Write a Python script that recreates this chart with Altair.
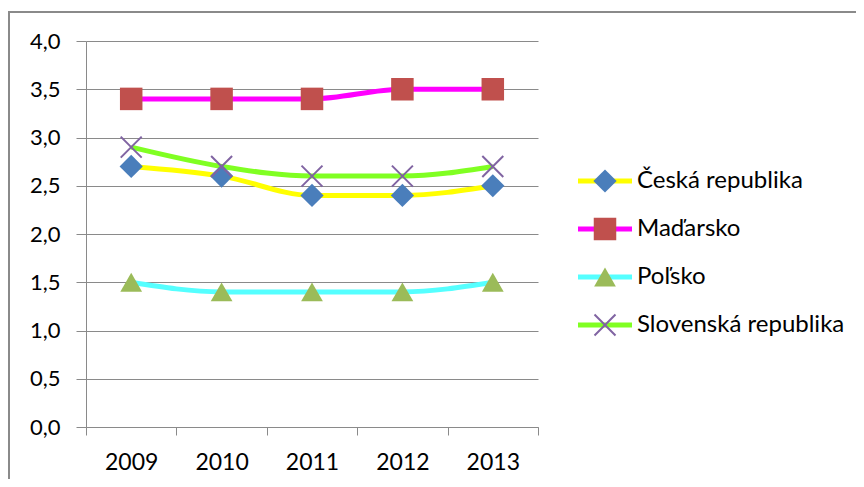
import altair as alt
import pandas as pd

years = ["2009", "2010", "2011", "2012", "2013"]
series = ["Česká republika", "Maďarsko", "Poľsko", "Slovenská republika"]
cz = [2.7, 2.6, 2.4, 2.4, 2.5]
hu = [3.4, 3.4, 3.4, 3.5, 3.5]
pl = [1.5, 1.4, 1.4, 1.4, 1.5]
sk = [2.9, 2.7, 2.6, 2.6, 2.7]
y_ticks = [0.0, 0.5, 1.0, 1.5, 2.0, 2.5, 3.0, 3.5, 4.0]

line_colors = ["#FFFF00", "#FF00FF", "#55FFFF", "#80FF22"]
marker_fill = ["#4A7EBB", "#C0504D", "#9BBB59", "#8064A2"]
marker_stroke = ["rgba(0,0,0,0)", "rgba(0,0,0,0)", "rgba(0,0,0,0)", "#8064A2"]
marker_shapes = ["diamond", "square", "triangle-up", "M-1,-1L1,1M-1,1L1,-1"]
marker_sizes = [540, 440, 560, 400]

rows = []
for name, vals in zip(series, [cz, hu, pl, sk]):
    for yr, v in zip(years, vals):
        rows.append({"series": name, "year": yr, "value": v})
df = pd.DataFrame(rows)
leg = pd.DataFrame({"series": series, "idx": list(range(len(series)))})

FONT = "Lato"
GRAY = "#8A8A8A"

color_scale = alt.Scale(domain=series, range=line_colors)
fill_scale = alt.Scale(domain=series, range=marker_fill)
stroke_scale = alt.Scale(domain=series, range=marker_stroke)
shape_scale = alt.Scale(domain=series, range=marker_shapes)
size_scale = alt.Scale(domain=series, range=marker_sizes)

x_enc = alt.X(
    "year:N",
    sort=years,
    scale=alt.Scale(paddingInner=0, paddingOuter=0),
    axis=alt.Axis(
        title=None, labelAngle=0, tickBand="extent", grid=False,
        domainColor=GRAY, tickColor=GRAY, tickSize=8,
        labelFont=FONT, labelFontSize=23, labelColor="#000000", labelPadding=16,
    ),
)
y_enc = alt.Y(
    "value:Q",
    scale=alt.Scale(domain=[0, 4], nice=False, zero=True),
    axis=alt.Axis(
        title=None, values=y_ticks,
        labelExpr="replace(format(datum.value, '.1f'), '.', ',')",
        grid=True, gridColor=GRAY, gridWidth=1,
        domainColor=GRAY, tickColor=GRAY, tickSize=10,
        labelFont=FONT, labelFontSize=22, labelColor="#000000", labelPadding=16,
    ),
)

base = alt.Chart(df)
lines = base.mark_line(strokeWidth=5, interpolate="monotone").encode(
    x=x_enc, y=y_enc,
    color=alt.Color("series:N", scale=color_scale, legend=None),
)
points = base.mark_point(filled=True, opacity=1, strokeWidth=2).encode(
    x=x_enc, y=y_enc,
    fill=alt.Fill("series:N", scale=fill_scale, legend=None),
    stroke=alt.Stroke("series:N", scale=stroke_scale, legend=None),
    shape=alt.Shape("series:N", scale=shape_scale, legend=None),
    size=alt.Size("series:N", scale=size_scale, legend=None),
)

lbase = alt.Chart(leg).transform_calculate(ly="4 - (140 + 48 * datum.idx) / 96.5")
leg_line = lbase.mark_rule(strokeWidth=5).encode(
    x=alt.value(492), x2=alt.value(546), y=alt.Y("ly:Q"),
    color=alt.Color("series:N", scale=color_scale, legend=None),
)
leg_pt = lbase.mark_point(filled=True, opacity=1, strokeWidth=2).encode(
    x=alt.value(519), y=alt.Y("ly:Q"),
    fill=alt.Fill("series:N", scale=fill_scale, legend=None),
    stroke=alt.Stroke("series:N", scale=stroke_scale, legend=None),
    shape=alt.Shape("series:N", scale=shape_scale, legend=None),
    size=alt.Size("series:N", scale=size_scale, legend=None),
)
leg_txt = lbase.mark_text(align="left", baseline="middle", font=FONT, fontSize=24, color="#000000").encode(
    x=alt.value(551), y=alt.Y("ly:Q"), text="series:N",
)

frame_left = alt.Chart(leg).mark_rule(color=GRAY, strokeWidth=2).encode(
    x=alt.value(-77), y=alt.value(-29), y2=alt.value(470)
)
frame_top = alt.Chart(leg).mark_rule(color=GRAY, strokeWidth=2).encode(
    x=alt.value(-78), x2=alt.value(780), y=alt.value(-29)
)

chart = alt.layer(lines, points, leg_line, leg_pt, leg_txt, frame_left, frame_top).properties(
    width=452, height=386,
    autosize=alt.AutoSizeParams(type="none"),
    padding={"left": 78, "top": 33, "right": 318, "bottom": 52},
    background="#FFFFFF",
).configure_view(stroke=None)

chart.save("out.html", embed_options={"renderer": "svg", "actions": False})
